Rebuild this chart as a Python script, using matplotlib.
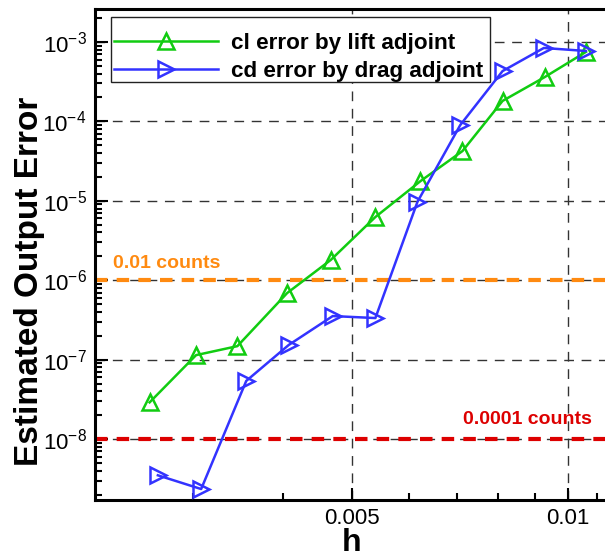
import matplotlib
matplotlib.use("Agg")
import matplotlib.pyplot as plt
from matplotlib.patches import Rectangle
from matplotlib.ticker import FixedLocator, FixedFormatter, NullFormatter

plt.rcParams['font.family'] = ['Liberation Sans', 'DejaVu Sans']
plt.rcParams['mathtext.fontset'] = 'custom'
plt.rcParams['mathtext.rm'] = 'Liberation Sans'
plt.rcParams['mathtext.it'] = 'Liberation Sans'

# values
h_cl = [0.00261, 0.00303, 0.00346, 0.00406, 0.00467, 0.00539, 0.00623, 0.00713, 0.00811, 0.00929, 0.01060]
err_cl = [2.9e-8, 1.14e-7, 1.48e-7, 6.9e-7, 1.8e-6, 6.25e-6, 1.77e-5, 4.23e-5, 1.81e-4, 3.62e-4, 7.5e-4]

h_cd = [0.00268, 0.00308, 0.00356, 0.00408, 0.00470, 0.00539, 0.00617, 0.00708, 0.00811, 0.00926, 0.01060]
err_cd = [3.5e-9, 2.35e-9, 5.4e-8, 1.53e-7, 3.54e-7, 3.34e-7, 9.7e-6, 9.0e-5, 4.3e-4, 8.4e-4, 7.7e-4]

limit_high = 1e-6
limit_low = 1e-8

x_major = [0.005, 0.01]
x_major_labels = ["0.005", "0.01"]
x_minor = [0.003, 0.004, 0.006, 0.007, 0.008, 0.009, 0.011]

y_exp = [-3, -4, -5, -6, -7, -8]
y_major = [10.0 ** e for e in y_exp]
y_major_labels = [r"$10^{%d}$" % e for e in y_exp]
y_minor = [m * 10.0 ** e for e in range(-9, -2) for m in range(2, 10)
           if 1.71e-9 < m * 10.0 ** e < 2.6e-3]

W, H = 605, 559
fig = plt.figure(figsize=(W / 100, H / 100), dpi=100)
ax = fig.add_axes([95 / W, 1 - 500 / H, 510 / W, 491 / H])

ax.set_xscale('log')
ax.set_yscale('log')
ax.set_xlim(0.00219, 0.01127)
ax.set_ylim(1.71e-9, 2.6e-3)

# grid
for yv in y_major:
    ax.axhline(yv, color='#333333', lw=1.0, ls=(0, (7, 5.5)), zorder=1)
for xv in x_major:
    ax.axvline(xv, color='#333333', lw=1.0, ls=(0, (7, 5.5)), zorder=1)

# thresholds
ax.axhline(limit_high, color='#ff8a10', lw=3.0, ls=(0, (3, 2.2)), zorder=2)
ax.axhline(limit_low, color='#dd0000', lw=3.0, ls=(0, (3, 2.2)), zorder=2)
ax.text(0.00232, 1.43e-6, "0.01 counts", color='#ff8a10', fontsize=14,
        fontweight='bold', va='baseline', ha='left')
ax.text(0.00714, 1.55e-8, "0.0001 counts", color='#dd0000', fontsize=14,
        fontweight='bold', va='baseline', ha='left')

ax.plot(h_cl, err_cl, color='#11cc11', lw=1.8, marker='^', ms=11, mew=1.8,
        mfc='none', label='cl error by lift adjoint', zorder=4)
ax.plot(h_cd, err_cd, color='#3333ff', lw=1.8, marker='>', ms=11, mew=1.8,
        mfc='none', label='cd error by drag adjoint', zorder=4)

# ticks
ax.xaxis.set_major_locator(FixedLocator(x_major))
ax.xaxis.set_major_formatter(FixedFormatter(x_major_labels))
ax.xaxis.set_minor_locator(FixedLocator(x_minor))
ax.xaxis.set_minor_formatter(NullFormatter())
ax.yaxis.set_major_locator(FixedLocator(y_major))
ax.yaxis.set_major_formatter(FixedFormatter(y_major_labels))
ax.yaxis.set_minor_locator(FixedLocator(y_minor))
ax.yaxis.set_minor_formatter(NullFormatter())
ax.tick_params(which='both', direction='in', top=False, right=False, labelsize=16, width=1.5)
ax.tick_params(which='major', length=9, pad=6)
ax.tick_params(which='minor', length=5)

for s in ['left', 'bottom', 'top']:
    ax.spines[s].set_linewidth(2.2)
ax.spines['right'].set_visible(False)

fig.text(30 / W, 1 - 281 / H, "Estimated Output Error", rotation=90,
         fontsize=24, fontweight='bold', ha='center', va='center')
fig.text(352 / W, 1 - 558 / H, "h", fontsize=23, fontweight='bold',
         ha='center', va='bottom')

# legend: frameless entries plus a drawn box
leg = ax.legend(loc='center left', bbox_to_anchor=(114 / W, 1 - 57.5 / H),
                bbox_transform=fig.transFigure, borderaxespad=0, frameon=False,
                prop={'weight': 'bold', 'size': 16.2}, handlelength=4.6,
                handletextpad=0.6, borderpad=0, labelspacing=0.28)
leg.set_zorder(6)
ax.add_patch(Rectangle((111 / W, 1 - 82 / H), 379 / W, 65 / H,
                       transform=fig.transFigure, facecolor='white',
                       edgecolor='#222222', lw=1.0, zorder=5, clip_on=False))

fig.savefig("out.png", dpi=100)
